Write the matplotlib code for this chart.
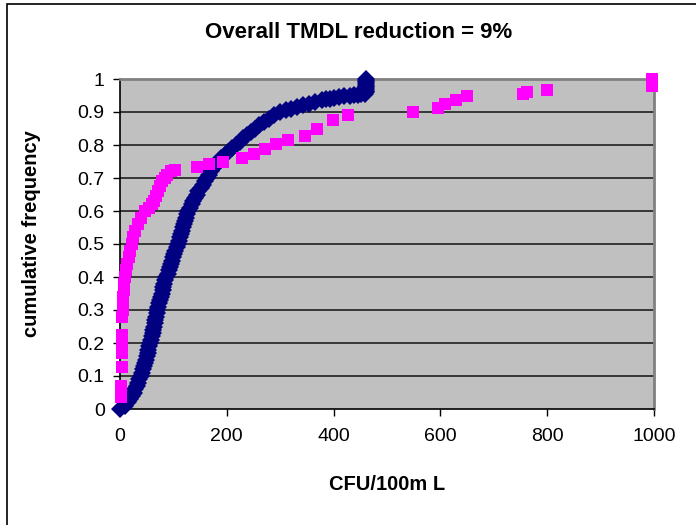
import matplotlib.pyplot as plt
from matplotlib.patches import Rectangle

plt.rcParams['font.family'] = ['Liberation Sans', 'DejaVu Sans']

# ==================== data ====================
# navy series: dense cumulative curve (CFU/100mL, cumulative frequency)
navy_x = [0, 9, 15, 19, 23, 26, 29, 31, 34, 36,
          39, 41, 43, 45, 47, 48, 50, 52, 53, 55,
          57, 58, 59, 61, 62, 64, 65, 66, 68, 69,
          70, 72, 73, 75, 76, 78, 80, 81, 83, 85,
          87, 89, 91, 93, 95, 97, 99, 101, 103, 106,
          108, 110, 112, 114, 116, 118, 120, 122, 124, 126,
          128, 131, 134, 137, 140, 144, 147, 151, 155, 159,
          163, 167, 171, 175, 179, 184, 190, 196, 202, 209,
          217, 224, 231, 238, 245, 253, 261, 270, 279, 289,
          300, 310, 320, 331, 342, 353, 365, 378, 386, 393,
          400, 410, 420, 430, 438, 445, 452, 458,
          460, 460, 460, 460, 460, 460, 460, 460, 460]
navy_y = [0.00, 0.01, 0.02, 0.03, 0.04, 0.05, 0.06, 0.07, 0.08, 0.09,
          0.10, 0.11, 0.12, 0.13, 0.14, 0.15, 0.16, 0.17, 0.18, 0.19,
          0.20, 0.21, 0.22, 0.23, 0.24, 0.25, 0.26, 0.27, 0.28, 0.29,
          0.30, 0.31, 0.32, 0.33, 0.34, 0.35, 0.36, 0.37, 0.38, 0.39,
          0.40, 0.41, 0.42, 0.43, 0.44, 0.45, 0.46, 0.47, 0.48, 0.49,
          0.50, 0.51, 0.52, 0.53, 0.54, 0.55, 0.56, 0.57, 0.58, 0.59,
          0.60, 0.61, 0.62, 0.63, 0.64, 0.65, 0.66, 0.67, 0.68, 0.69,
          0.70, 0.71, 0.72, 0.73, 0.74, 0.75, 0.76, 0.77, 0.78, 0.79,
          0.80, 0.81, 0.82, 0.83, 0.84, 0.85, 0.86, 0.87, 0.88, 0.89,
          0.900, 0.905, 0.910, 0.915, 0.920, 0.925, 0.930, 0.935, 0.938, 0.940,
          0.942, 0.945, 0.948, 0.950, 0.951, 0.953, 0.954, 0.955,
          0.960, 0.965, 0.970, 0.975, 0.980, 0.985, 0.990, 0.995, 1.000]

# magenta series: observed samples
pink_x = [2, 2, 3, 3, 3, 4, 4, 5, 5, 6,
          7, 8, 9, 11, 13, 16, 19, 22, 25, 29,
          34, 40, 47, 55, 60, 64, 68, 72, 75, 79,
          84, 88, 95, 103, 144, 166, 192, 228, 250, 272,
          293, 315, 346, 368, 399, 427, 548, 596, 609, 630,
          649, 755, 763, 799, 997, 997]
pink_y = [0.035, 0.07, 0.128, 0.17, 0.20, 0.225, 0.28, 0.30, 0.32, 0.34,
          0.36, 0.38, 0.40, 0.42, 0.44, 0.46, 0.48, 0.50, 0.52, 0.54,
          0.56, 0.58, 0.60, 0.61, 0.62, 0.63, 0.645, 0.66, 0.675, 0.69,
          0.70, 0.71, 0.72, 0.725, 0.734, 0.742, 0.75, 0.76, 0.773, 0.789,
          0.803, 0.816, 0.827, 0.849, 0.877, 0.892, 0.90, 0.911, 0.923, 0.935,
          0.948, 0.955, 0.96, 0.966, 0.98, 1.00]

x_ticks = [0, 200, 400, 600, 800, 1000]
y_ticks = [0, 0.1, 0.2, 0.3, 0.4, 0.5, 0.6, 0.7, 0.8, 0.9, 1]
y_labels = ['0', '0.1', '0.2', '0.3', '0.4', '0.5', '0.6', '0.7', '0.8', '0.9', '1']

# ==================== figure ====================
fig = plt.figure(figsize=(6.96, 5.25), dpi=100)
ax = fig.add_axes([120 / 696, 1 - 409 / 525, 534 / 696, 330 / 525])
ax.set_facecolor('#C0C0C0')

# chart-area border (runs off right/bottom edge)
fig.patches.append(Rectangle((7 / 696, -0.05), 1.2, 1 - 4 / 525 + 0.05,
                             transform=fig.transFigure, fill=False,
                             edgecolor='black', linewidth=1.2))

for v in y_ticks[1:-1]:
    ax.axhline(v, color='#202020', linewidth=1.2, zorder=1)

ax.plot(navy_x, navy_y, linestyle='none', marker='D', markersize=9.5,
        color='#000080', markeredgewidth=0, zorder=3, clip_on=False)
ax.plot(pink_x, pink_y, linestyle='none', marker='s', markersize=9,
        color='#FF00FF', markeredgewidth=0, zorder=4, clip_on=False)

ax.set_xlim(0, 1000)
ax.set_ylim(0, 1)
ax.set_xticks(x_ticks)
ax.set_yticks(y_ticks)
ax.set_yticklabels(y_labels)
ax.tick_params(axis='both', labelsize=14, direction='out', length=5,
               width=1, color='black')
ax.tick_params(axis='x', pad=9)
ax.tick_params(axis='y', pad=6)

for side in ['left', 'bottom']:
    ax.spines[side].set_color('black')
    ax.spines[side].set_linewidth(1.2)
for side in ['top', 'right']:
    ax.spines[side].set_color('#808080')
    ax.spines[side].set_linewidth(2)

ax.set_xlabel('CFU/100m L', fontsize=14.5, fontweight='bold')
ax.set_ylabel('cumulative frequency', fontsize=14.5, fontweight='bold')
ax.xaxis.set_label_coords(0.5, (409 - 484) / 330)
ax.yaxis.set_label_coords((31 - 120) / 534, (409 - 234) / 330)
ax.xaxis.label.set_va('center')
ax.yaxis.label.set_va('center')
fig.text(359 / 696, 1 - 33 / 525, 'Overall TMDL reduction = 9%',
         fontsize=16, fontweight='bold', ha='center', va='center')

plt.savefig('out.png', dpi=100)
plt.close()
